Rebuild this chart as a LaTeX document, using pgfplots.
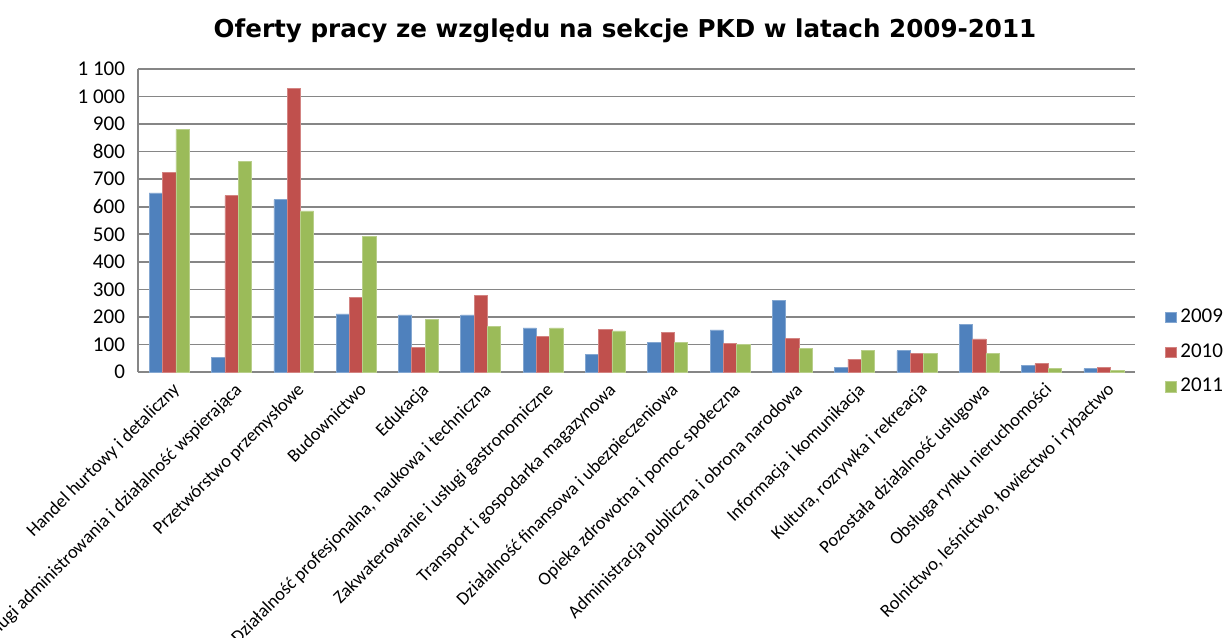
\documentclass[border=0pt]{standalone}
\usepackage{pgfplots}
\pgfplotsset{compat=1.18}
\usepackage{fontspec}
\setmainfont{Carlito}
\newfontfamily\titlefont{DejaVu Sans}
\definecolor{c09}{RGB}{79,129,189}
\definecolor{c10}{RGB}{192,80,77}
\definecolor{c11}{RGB}{155,187,89}
\definecolor{gridc}{RGB}{134,134,134}
\begin{document}
\begin{tikzpicture}
\begin{axis}[
  name=ax,
  scale only axis,
  width=498.5pt, height=151.5pt,
  ybar=0pt, bar width=6.65pt,
  xmin=-0.5, xmax=15.5,
  ymin=0, ymax=1100,
  xtick={0,...,15},
  xticklabels={Handel hurtowy i detaliczny,
    Usługi administrowania i działalność wspierająca,
    Przetwórstwo przemysłowe,
    Budownictwo,
    Edukacja,
    {Działalność profesjonalna, naukowa i techniczna},
    Zakwaterowanie i usługi gastronomiczne,
    Transport i gospodarka magazynowa,
    Działalność finansowa i ubezpieczeniowa,
    Opieka zdrowotna i pomoc społeczna,
    Administracja publiczna i obrona narodowa,
    Informacja i komunikacja,
    {Kultura, rozrywka i rekreacja},
    Pozostała działalność usługowa,
    Obsługa rynku nieruchomości,
    {Rolnictwo, leśnictwo, łowiectwo i rybactwo}},
  xticklabel style={rotate=45, anchor=north east, font=\fontsize{9.2}{11}\selectfont, inner sep=1pt, xshift=-1.5pt, yshift=-3pt},
  ytick={0,100,...,1100},
  yticklabels={0,100,200,300,400,500,600,700,800,900,1 000,1 100},
  yticklabel style={font=\fontsize{10.5}{12}\selectfont, xshift=-3pt},
  ymajorgrids, grid style={gridc, line width=0.8pt},
  axis x line*=bottom, axis y line*=left,
  axis line style={gridc, line width=0.8pt, -},
  major tick length=0pt,
  title={\titlefont\bfseries Oferty pracy ze względu na sekcje PKD w latach 2009-2011},
  title style={font=\fontsize{12.3}{14}\selectfont, anchor=base, at={(0.5,1)}, yshift=10pt, xshift=-5.75pt},
  legend style={draw=none, at={(1,0.066)}, anchor=west, xshift=15pt, font=\fontsize{10.5}{12}\selectfont, row sep=5pt, inner sep=0pt},
  legend cell align=left,
  legend image code/.code={\fill[#1] (0pt,-2.6pt) rectangle (5.2pt,2.6pt);},
]
\addplot[fill=c09, draw=c09!70!white, line width=0.3pt] coordinates {
(0,650) (1,53) (2,626) (3,211) (4,207) (5,207) (6,160) (7,65) (8,108) (9,153) (10,261) (11,16) (12,77) (13,172) (14,25) (15,12)};
\addplot[fill=c10, draw=c10!70!white, line width=0.3pt] coordinates {
(0,726) (1,640) (2,1030) (3,270) (4,88) (5,278) (6,128) (7,156) (8,143) (9,104) (10,122) (11,47) (12,67) (13,120) (14,30) (15,16)};
\addplot[fill=c11, draw=c11!70!white, line width=0.3pt] coordinates {
(0,881) (1,766) (2,585) (3,493) (4,192) (5,167) (6,160) (7,149) (8,108) (9,99) (10,87) (11,77) (12,67) (13,67) (14,12) (15,5)};
\legend{2009,2010,2011}
\end{axis}
\pgfresetboundingbox
\path ([xshift=-69pt,yshift=-132.5pt]ax.south west) rectangle ([xshift=543pt,yshift=186pt]ax.south west);
\end{tikzpicture}
\end{document}
